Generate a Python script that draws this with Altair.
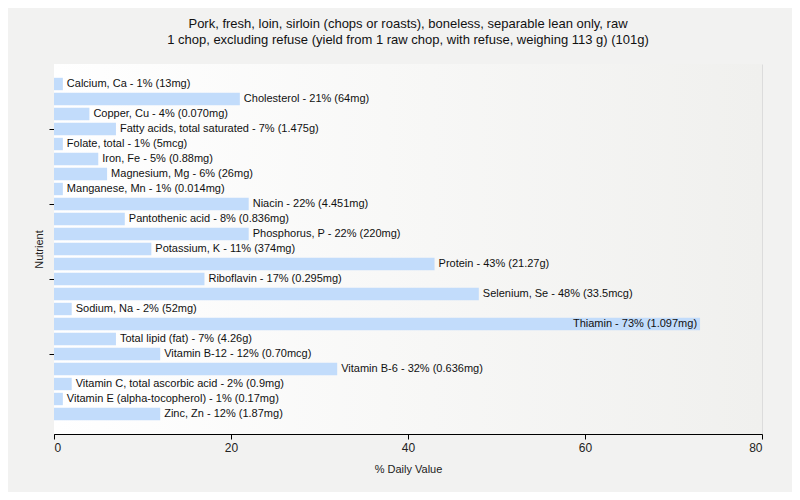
import altair as alt
import pandas as pd

nutrients = ["Calcium, Ca", "Cholesterol", "Copper, Cu", "Fatty acids, total saturated",
             "Folate, total", "Iron, Fe", "Magnesium, Mg", "Manganese, Mn", "Niacin",
             "Pantothenic acid", "Phosphorus, P", "Potassium, K", "Protein", "Riboflavin",
             "Selenium, Se", "Sodium, Na", "Thiamin", "Total lipid (fat)", "Vitamin B-12",
             "Vitamin B-6", "Vitamin C, total ascorbic acid", "Vitamin E (alpha-tocopherol)",
             "Zinc, Zn"]
values = [1, 21, 4, 7, 1, 5, 6, 1, 22, 8, 22, 11, 43, 17, 48, 2, 73, 7, 12, 32, 2, 1, 12]
amounts = ["13mg", "64mg", "0.070mg", "1.475g", "5mcg", "0.88mg", "26mg", "0.014mg",
           "4.451mg", "0.836mg", "220mg", "374mg", "21.27g", "0.295mg", "33.5mcg", "52mg",
           "1.097mg", "4.26g", "0.70mcg", "0.636mg", "0.9mg", "0.17mg", "1.87mg"]

n = len(nutrients)
df = pd.DataFrame({
    "nutrient": nutrients,
    "value": values,
    "zero": [0] * n,
    "pos": [n - i for i in range(n)],
    "label": [f"{a} - {v}% ({b})" for a, v, b in zip(nutrients, values, amounts)],
})

FONT = "Liberation Sans"
xscale = alt.Scale(domain=[0, 80], nice=False)
yscale = alt.Scale(domain=[0, n + 1], nice=False, zero=False)

x = alt.X("value:Q", title="% Daily Value", scale=xscale,
          axis=alt.Axis(values=[0, 20, 40, 60, 80], grid=True, gridColor="#dcdcdc",
                        domainColor="black", tickColor="black", tickSize=5,
                        labelFontSize=12, titleFontSize=11, labelColor="#222",
                        titleColor="#222", titlePadding=10, labelPadding=3))
y = alt.Y("pos:Q", title="Nutrient", scale=yscale,
          axis=alt.Axis(values=[5, 10, 15, 20], labels=False, grid=False,
                        domainColor="black", tickColor="black", tickSize=5,
                        titleFontSize=11, titleColor="#222", titlePadding=4))

bg = alt.Chart(pd.DataFrame({"a": [0]})).mark_rect(
    fill=alt.Gradient(gradient="linear", x1=0, x2=1, y1=0, y2=0,
                      stops=[alt.GradientStop(offset=0, color="#ffffff"),
                             alt.GradientStop(offset=1, color="#f0f0ee")])
).encode(x=alt.value(0), x2=alt.value(708), y=alt.value(0), y2=alt.value(370))

bars = alt.Chart(df).mark_bar(color="#c2dcfb", height=12.4, orient="horizontal").encode(
    x=x, x2="zero:Q", y=y)

base = alt.Chart(df)
labels_out = base.transform_filter("datum.value < 60").mark_text(
    align="left", baseline="middle", dx=4, font=FONT, fontSize=11, color="#111"
).encode(x=alt.X("value:Q", scale=xscale), y=alt.Y("pos:Q", scale=yscale), text="label:N")
labels_in = base.transform_filter("datum.value >= 60").mark_text(
    align="right", baseline="middle", dx=-3, font=FONT, fontSize=11, color="#111"
).encode(x=alt.X("value:Q", scale=xscale), y=alt.Y("pos:Q", scale=yscale), text="label:N")

chart = alt.layer(bg, bars, labels_out, labels_in).properties(
    width=708, height=370,
    title=alt.TitleParams(
        ["Pork, fresh, loin, sirloin (chops or roasts), boneless, separable lean only, raw",
         "1 chop, excluding refuse (yield from 1 raw chop, with refuse, weighing 113 g) (101g)"],
        font=FONT, fontSize=13, fontWeight="normal", color="#111", lineHeight=16,
        anchor="middle", frame="group", offset=17),
    autosize=alt.AutoSizeParams(type="none"),
    padding={"left": 46, "top": 56, "right": 30, "bottom": 58},
    background="#f2f2f1",
).configure_view(stroke=None).configure_axis(
    labelFont=FONT, titleFont=FONT, titleFontWeight="normal"
)

chart.save("out.html", embed_options={"renderer": "svg", "actions": False})
